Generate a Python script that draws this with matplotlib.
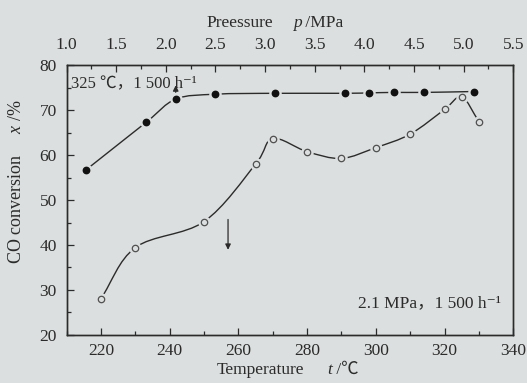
import numpy as np
import matplotlib as mpl
import matplotlib.pyplot as plt
from matplotlib.path import Path
from matplotlib.patches import PathPatch
from matplotlib.ticker import MultipleLocator
from matplotlib.offsetbox import TextArea, HPacker, DrawingArea, AnnotationBbox

mpl.rcParams['font.family'] = ['Liberation Serif', 'Noto Sans CJK SC', 'DejaVu Serif']
mpl.rcParams['mathtext.fontset'] = 'custom'
mpl.rcParams['mathtext.rm'] = 'Liberation Serif'
mpl.rcParams['mathtext.it'] = 'Liberation Serif:italic'

# temperature series (open circles, bottom axis)
temp = [220, 230, 250, 265, 270, 280, 290, 300, 310, 320, 325, 330]
conv_t = [28.0, 39.4, 45.2, 58.0, 63.7, 60.8, 59.3, 61.7, 64.7, 70.2, 73.0, 67.5]
# pressure series (filled circles, top axis)
press = [1.2, 1.8, 2.1, 2.5, 3.1, 3.8, 4.05, 4.3, 4.6, 5.1]
conv_p = [56.8, 67.3, 72.5, 73.6, 73.8, 73.8, 73.9, 74.0, 74.0, 74.2]

bg = '#dcdfdf'
ink = '#2b2b2b'
fs = 12.5


def smooth_path(ax, x, y):
    # catmull-rom through the points, done in screen space so spacing is fair
    pts = ax.transData.transform(np.column_stack([x, y]))
    n = len(pts)
    tang = np.zeros_like(pts)
    tang[0] = pts[1] - pts[0]
    tang[-1] = pts[-1] - pts[-2]
    for i in range(1, n - 1):
        tang[i] = (pts[i + 1] - pts[i - 1]) / 2
    verts = [pts[0]]
    codes = [Path.MOVETO]
    for i in range(n - 1):
        verts += [pts[i] + tang[i] / 3, pts[i + 1] - tang[i + 1] / 3, pts[i + 1]]
        codes += [Path.CURVE4] * 3
    verts = ax.transData.inverted().transform(np.array(verts))
    return Path(verts, codes)


def axis_label(ax, word, var, unit, xy, align, gap):
    # word, italic variable and unit laid side by side
    props = dict(fontsize=fs, color=ink)
    box = HPacker(children=[TextArea(word, textprops=props),
                            DrawingArea(gap, 1),
                            TextArea(var, textprops=dict(props, style='italic')),
                            TextArea(' /' + unit, textprops=props)],
                  align='baseline', pad=0, sep=0)
    ab = AnnotationBbox(box, xy, xycoords='axes fraction', box_alignment=align,
                        frameon=False, annotation_clip=False)
    ax.add_artist(ab)


fig = plt.figure(figsize=(5.27, 3.83), dpi=100, facecolor=bg)
ax = fig.add_axes([0.1262, 0.1261, 0.8478, 0.7029], facecolor=bg)
ax2 = ax.twiny()

ax.set_xlim(210, 340)
ax.set_ylim(20, 80)
ax2.set_xlim(1.0, 5.5)

ax.set_xticks(range(220, 341, 20))
ax.xaxis.set_minor_locator(MultipleLocator(10))
ax.set_yticks(range(20, 81, 10))
ax.yaxis.set_minor_locator(MultipleLocator(5))
ax2.set_xticks(np.arange(1.0, 5.51, 0.5))
ax2.xaxis.set_minor_locator(MultipleLocator(0.25))

ax.tick_params(which='both', direction='in', top=False, right=False, colors=ink, labelsize=fs)
ax.tick_params(axis='x', which='major', length=5, width=0.9, pad=6)
ax.tick_params(axis='x', which='minor', length=3, width=0.9)
ax.tick_params(axis='y', which='major', length=5, width=0.9, pad=7)
ax.tick_params(axis='y', which='minor', length=3, width=0.9)
ax2.tick_params(which='both', direction='in', colors=ink, labelsize=fs)
ax2.tick_params(which='major', length=5, width=0.9, pad=9)
ax2.tick_params(which='minor', length=3, width=0.9)
ax.set_xticklabels([str(v) for v in range(220, 341, 20)])
ax2.set_xticklabels(['%.1f' % v for v in np.arange(1.0, 5.51, 0.5)])

for a in (ax, ax2):
    for s in a.spines.values():
        s.set_color(ink)
        s.set_linewidth(1.0)

fig.canvas.draw()

ax.add_patch(PathPatch(smooth_path(ax, temp, conv_t), fill=False, ec=ink, lw=1.0))
ax.plot(temp, conv_t, 'o', ms=8, mfc=bg, mec=bg, zorder=3)
ax.plot(temp, conv_t, 'o', ms=4.6, mfc=bg, mec='#505050', mew=0.9, zorder=4)

ax2.add_patch(PathPatch(smooth_path(ax2, press, conv_p), fill=False, ec=ink, lw=1.0))
ax2.plot(press, conv_p, 'o', ms=8, mfc=bg, mec=bg, zorder=3)
ax2.plot(press, conv_p, 'o', ms=4.6, mfc='#111111', mec='#111111', zorder=4)

ax2.annotate('', xy=(2.1, 76.2), xytext=(2.1, 73.4),
             arrowprops=dict(arrowstyle='-|>', color=ink, lw=0.9, mutation_scale=8))
ax.annotate('', xy=(257, 38.3), xytext=(257, 46.3),
            arrowprops=dict(arrowstyle='-|>', color=ink, lw=0.9, mutation_scale=8))

ax.text(211.2, 75.7, '325 ℃，1 500 h⁻¹', fontsize=12, color=ink, va='center', ha='left')
ax.text(336.5, 27.1, '2.1 MPa，1 500 h⁻¹', fontsize=fs, color=ink, va='center', ha='right')

axis_label(ax, 'Temperature', 't', '℃', (0.495, -0.101), (0.5, 1.0), 16)
axis_label(ax2, 'Preessure', 'p', 'MPa', (0.467, 1.128), (0.5, 0.0), 14)
ax.set_ylabel('CO conversion     $x$ /%', fontsize=13, color=ink)
ax.yaxis.set_label_coords(-0.093, 0.567)

fig.savefig('out.png', dpi=100, facecolor=bg)
